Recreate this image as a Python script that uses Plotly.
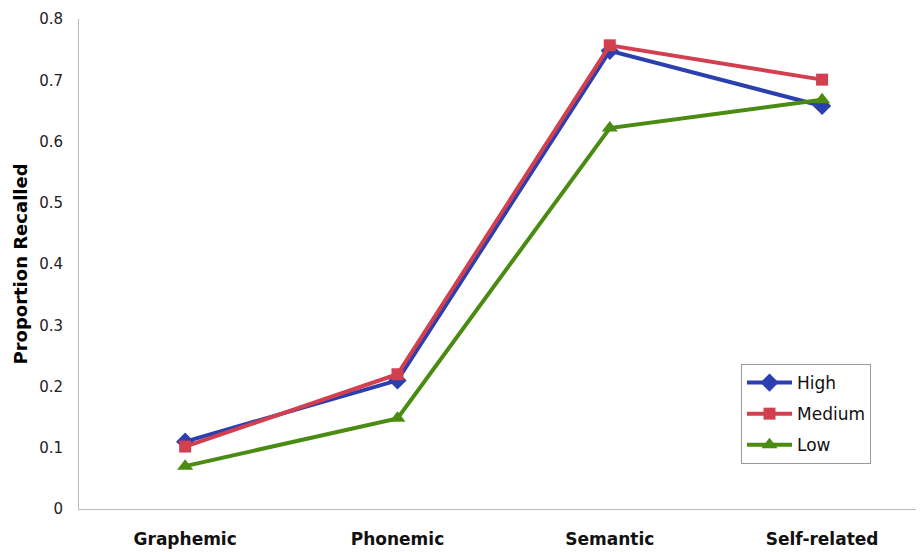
import plotly.graph_objects as go

categories = ["Graphemic", "Phonemic", "Semantic", "Self-related"]
high = [0.11, 0.21, 0.748, 0.658]
medium = [0.102, 0.22, 0.757, 0.701]
low = [0.07, 0.148, 0.622, 0.668]
y_ticks = [0, 0.1, 0.2, 0.3, 0.4, 0.5, 0.6, 0.7, 0.8]
y_tick_labels = ["0", "0.1", "0.2", "0.3", "0.4", "0.5", "0.6", "0.7", "0.8"]

series = [
    ("High", high, "#2B3FAE", "diamond", 14),
    ("Medium", medium, "#D23F4F", "square", 12),
    ("Low", low, "#4A8C12", "triangle-up", 14),
]

FONT = "DejaVu Sans, Liberation Sans, Arial, sans-serif"

fig = go.Figure()
for name, vals, color, sym, size in series:
    fig.add_trace(go.Scatter(
        x=list(range(len(categories))), y=vals, name=name, mode="lines+markers",
        legendgroup=name,
        line=dict(color=color, width=4),
        marker=dict(symbol=sym, size=size, color=color),
    ))

# page body has an 8px margin; compensate so the plot lands where the reference does
OFF = 8
W, H = 924 - OFF, 552 - OFF
L, T, B = 79 - OFF, 19 - OFF, 43
plot_w = W - L
plot_h = H - T - B

fig.update_layout(
    width=W, height=H,
    margin=dict(l=L, r=0, t=T, b=B, autoexpand=False),
    paper_bgcolor="white", plot_bgcolor="white",
    font=dict(family=FONT, color="#222222"),
    showlegend=True,
    legend=dict(
        x=(741 - 79) / plot_w, xanchor="left",
        y=(509 - 364) / plot_h, yanchor="top",
        bordercolor="#999999", borderwidth=1, bgcolor="white",
        font=dict(size=17, color="#111111", family=FONT),
        itemwidth=45, tracegroupgap=6,
    ),
)

fig.update_xaxes(
    tickmode="array", tickvals=list(range(len(categories))), ticktext=categories,
    range=[-0.5, 3.48], showgrid=False, zeroline=False,
    showline=True, linecolor="#BBBBBB", linewidth=1,
    ticks="outside", ticklen=15, tickcolor="rgba(0,0,0,0)",
    tickfont=dict(size=17, color="#111111", family=FONT, weight="bold"),
)
fig.update_yaxes(
    tickmode="array", tickvals=y_ticks, ticktext=y_tick_labels,
    range=[0, 0.8], showgrid=False, zeroline=False,
    showline=True, linecolor="#BBBBBB", linewidth=1,
    ticks="outside", ticklen=12, tickcolor="rgba(0,0,0,0)",
    tickfont=dict(size=15, color="#222222", family=FONT),
    title=dict(text="Proportion Recalled", standoff=6,
               font=dict(size=18, color="#000000", family=FONT, weight="bold")),
)

fig.write_html("out.html")
